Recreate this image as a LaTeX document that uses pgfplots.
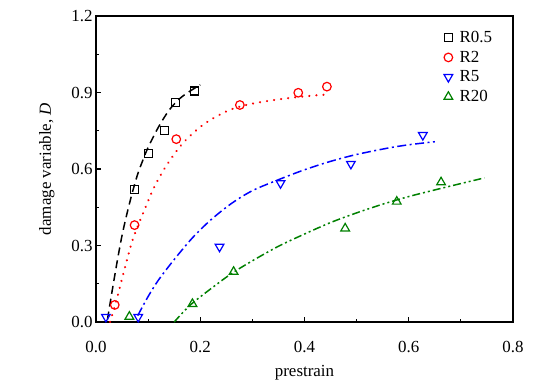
\documentclass[border=0pt]{standalone}
\usepackage{fontspec}
\setmainfont{Liberation Serif}
\usepackage{pgfplots}
\pgfplotsset{compat=1.18}
\definecolor{dgreen}{RGB}{0,128,0}
\newcommand{\bigf}{\fontsize{17}{19}\selectfont}
\begin{document}
\begin{tikzpicture}
\begin{axis}[name=ax, scale only axis, width=417bp, height=306bp,
  xmin=0, xmax=0.8, ymin=0, ymax=1.2,
  xtick={0,0.2,0.4,0.6,0.8}, ytick={0,0.3,0.6,0.9,1.2},
  minor x tick num=1, minor y tick num=1,
  tick align=inside, xtick pos=bottom, ytick pos=left,
  major tick length=5bp, minor tick length=3bp,
  tick style={line width=1.2bp, black},
  axis line style={line width=1.6bp},
  /pgf/number format/fixed, /pgf/number format/fixed zerofill, /pgf/number format/precision=1,
  /pgf/number format/assume math mode=true,
  tick label style={font=\bigf},
  xticklabel style={yshift=-16bp},
  label style={font=\bigf},
  xlabel style={yshift=-5bp},
  ylabel style={yshift=10bp},
  xlabel={prestrain}, ylabel={damage variable, \textit{D}},
  legend style={draw=none, fill=none, at={(0.827,0.962)}, anchor=north west,
    font=\bigf, row sep=4bp, nodes={inner ysep=1.5bp},
    /tikz/every odd column/.append style={column sep=5bp}},
  legend cell align=left,
  every axis plot/.append style={line width=1.5bp},
]
% curves
\addplot[black, smooth, dash pattern=on 8bp off 5bp, forget plot] coordinates {
(0.022,0.01)(0.03,0.11)(0.04,0.23)(0.05,0.34)(0.06,0.43)(0.07,0.51)(0.08,0.58)(0.09,0.635)(0.10,0.685)(0.12,0.765)(0.14,0.83)(0.16,0.875)(0.18,0.905)(0.20,0.93)};
\addplot[red, smooth, line cap=round, dash pattern=on 0.1bp off 7bp, line width=2.3bp, forget plot] coordinates {
(0.027,0.0)(0.04,0.09)(0.051,0.178)(0.07,0.32)(0.093,0.44)(0.112,0.53)(0.134,0.61)(0.166,0.70)(0.205,0.773)(0.246,0.822)(0.276,0.845)(0.315,0.862)(0.369,0.878)(0.417,0.888)(0.445,0.892)};
\addplot[blue, smooth, dash pattern=on 9bp off 3.5bp on 2bp off 3.5bp, forget plot] coordinates {
(0.08,0.025)(0.10,0.10)(0.12,0.165)(0.15,0.245)(0.185,0.33)(0.22,0.40)(0.26,0.465)(0.30,0.515)(0.35,0.558)(0.40,0.597)(0.45,0.630)(0.50,0.657)(0.56,0.682)(0.60,0.695)(0.65,0.707)};
\addplot[dgreen, smooth, dash pattern=on 8bp off 3bp on 2bp off 3bp on 2bp off 3bp, forget plot] coordinates {
(0.15,0.0)(0.18,0.065)(0.22,0.13)(0.26,0.19)(0.30,0.24)(0.35,0.297)(0.40,0.345)(0.45,0.39)(0.50,0.428)(0.55,0.462)(0.60,0.492)(0.65,0.518)(0.70,0.543)(0.745,0.565)};
% markers
\addplot[only marks, black, mark=square, mark size=4bp, mark options={line width=1.2bp, solid}] coordinates {
(0.074,0.52)(0.100,0.66)(0.132,0.75)(0.152,0.861)(0.189,0.906)};
\addlegendentry{R0.5}
\addplot[only marks, red, mark=o, mark size=4.3bp, mark options={line width=1.2bp, solid}] coordinates {
(0.036,0.067)(0.074,0.38)(0.154,0.717)(0.276,0.851)(0.388,0.899)(0.443,0.923)};
\addlegendentry{R2}
\addplot[only marks, blue, mark=triangle, mark size=5bp, mark options={line width=1.2bp, solid, rotate=180}] coordinates {
(0.019,0.02)(0.081,0.02)(0.237,0.295)(0.354,0.544)(0.489,0.62)(0.627,0.733)};
\addlegendentry{R5}
\addplot[only marks, dgreen, mark=triangle, mark size=5bp, mark options={line width=1.2bp, solid}] coordinates {
(0.064,0.021)(0.185,0.071)(0.264,0.197)(0.478,0.367)(0.577,0.472)(0.662,0.548)};
\addlegendentry{R20}
\end{axis}
\pgfresetboundingbox
\path[use as bounding box] ([xshift=-96bp,yshift=-66bp]ax.south west) rectangle ([xshift=42bp,yshift=16bp]ax.north east);
\end{tikzpicture}
\end{document}
